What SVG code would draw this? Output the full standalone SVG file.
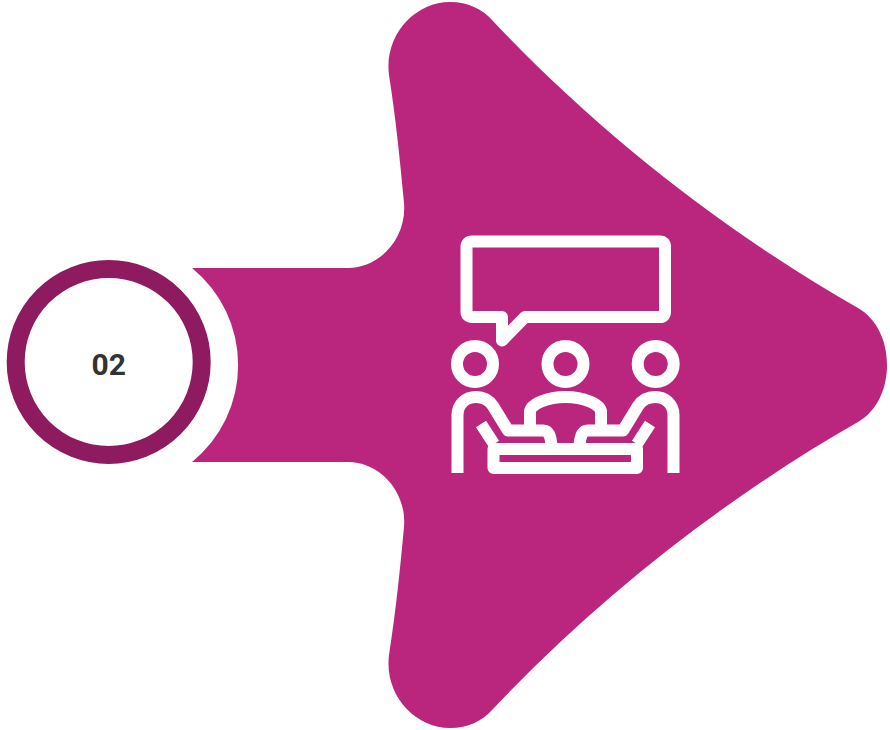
<svg xmlns="http://www.w3.org/2000/svg" width="890" height="730" viewBox="0 0 890 730">
<style>
.ln{fill:none;stroke:#fff;stroke-width:12;stroke-linejoin:round}
</style>
<rect width="890" height="730" fill="#fff"/>
<g id="arrow">
<path fill="#BA267D" d="M192 268H348C380 268 407 238 404 203C400 160 396 120 389 75C384 35 415 2 450 2C468 2 482 9 492 20C600 135 730 235 858 308C877 319 887 341 887 365C887 389 877 411 858 422C730 495 600 595 492 710C482 721 468 728 450 728C415 728 384 695 389 655C396 610 400 570 404 527C407 492 380 462 348 462H192A125 125 0 0 0 192 268Z"/>
</g>
<g id="badge">
<circle cx="108.700" cy="362" r="93" fill="#fff" stroke="#8E1A5F" stroke-width="18"/>
<text x="108.700" y="375" text-anchor="middle" font-family="Roboto, 'Liberation Sans', sans-serif" font-weight="700" font-size="30" fill="#333">02</text>
</g>
<g id="icon">
<path class="ln" d="M472 241.500H660Q665 241.500 665 247V311.500Q665 317 660 317H525L502 340.500V317H472Q466.500 317 466.500 311.500V247Q466.500 241.500 472 241.500Z"/>
<circle class="ln" cx="475" cy="364" r="18"/>
<circle class="ln" cx="565.500" cy="364" r="18"/>
<circle class="ln" cx="655.700" cy="364" r="18"/>
<path class="ln" d="M530 430V412C530 404 548 397 565.500 397C583 397 601 404 601 412V430"/>
<path class="ln" d="M457.500 473V415C457.500 404 466 397 476 397C484 397 489 400 493 406L508 430.500H543C549 430.500 551.500 437 551.500 449"/>
<path class="ln" d="M673.500 473V415C673.500 404 665 397 655 397C647 397 642 400 638 406L623 430.500H588C582 430.500 579.500 437 579.500 449"/>
<path class="ln" d="M481 424L494 444M650 424L637 444"/>
<path class="ln" d="M493.500 449H637V468H493.500Z"/>
</g>
</svg>
